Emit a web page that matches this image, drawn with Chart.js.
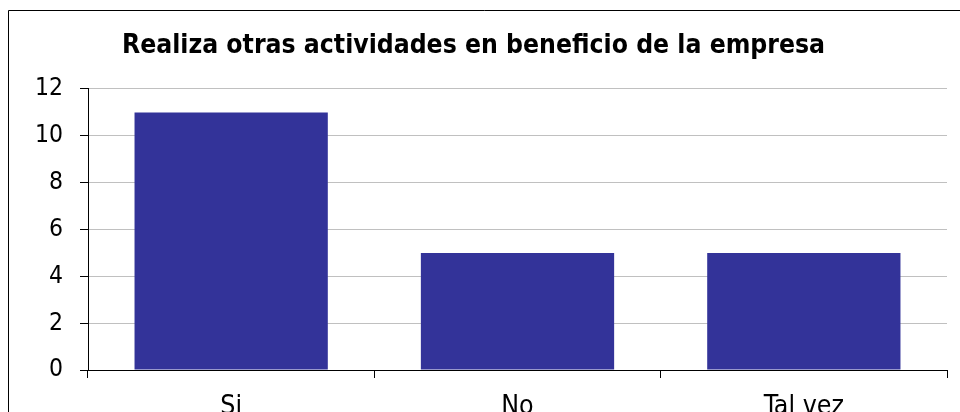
<!DOCTYPE html>
<html>
<head>
<meta charset="utf-8">
<script src="https://cdn.jsdelivr.net/npm/chart.js@4"></script>
<style>
  html, body { margin: 0; padding: 0; background: #fff; }
  #wrap { width: 960px; height: 412px; position: relative; }
</style>
</head>
<body>
<div id="wrap"><canvas id="chart" width="960" height="412"></canvas></div>
<script>
const categories = ["Si", "No", "Tal vez"];
const counts = [11, 5, 5];
const yTicks = [0, 2, 4, 6, 8, 10, 12];
const chartTitle = "Realiza otras actividades en beneficio de la empresa";

// outer frame of the original chart box
const framePlugin = {
    id: "frame",
    beforeDraw(chart) {
        const ctx = chart.ctx;
        ctx.save();
        ctx.strokeStyle = "#000";
        ctx.lineWidth = 1;
        ctx.beginPath();
        ctx.moveTo(8.5, 420);
        ctx.lineTo(8.5, 10.5);
        ctx.lineTo(970, 10.5);
        ctx.stroke();
        ctx.restore();
    }
};

new Chart(document.getElementById("chart"), {
    type: "bar",
    data: {
        labels: categories,
        datasets: [{
            data: counts,
            backgroundColor: "#333399",
            borderWidth: 0,
            categoryPercentage: 0.675,
            barPercentage: 1
        }]
    },
    options: {
        responsive: false,
        animation: false,
        layout: { padding: { left: 0, right: 13, top: 0, bottom: 0 } },
        plugins: {
            legend: { display: false },
            tooltip: { enabled: false },
            title: {
                display: true,
                text: chartTitle,
                color: "#000",
                font: { family: "DejaVu Sans Condensed", size: 26.3, weight: "bold", lineHeight: 1.2 },
                padding: { top: 30, bottom: 27.4 }
            }
        },
        scales: {
            x: {
                afterFit(scale) { scale.height = 42; },
                grid: {
                    display: true,
                    drawOnChartArea: false,
                    offset: true,
                    color: "#000",
                    tickColor: "#000",
                    tickLength: 8
                },
                border: { color: "#000", width: 1 },
                ticks: {
                    color: "#000",
                    padding: 13,
                    font: { family: "DejaVu Sans Condensed", size: 26.5 }
                }
            },
            y: {
                min: 0,
                max: 12,
                afterFit(scale) { scale.width = 88; },
                afterBuildTicks(scale) { scale.ticks = yTicks.map(v => ({ value: v })); },
                grid: {
                    color: "#c0c0c0",
                    tickColor: "#000",
                    tickLength: 8
                },
                border: { color: "#000", width: 1 },
                ticks: {
                    color: "#000",
                    padding: 17,
                    font: { family: "DejaVu Sans Condensed", size: 24.5 }
                }
            }
        }
    },
    plugins: [framePlugin]
});
</script>
</body>
</html>
